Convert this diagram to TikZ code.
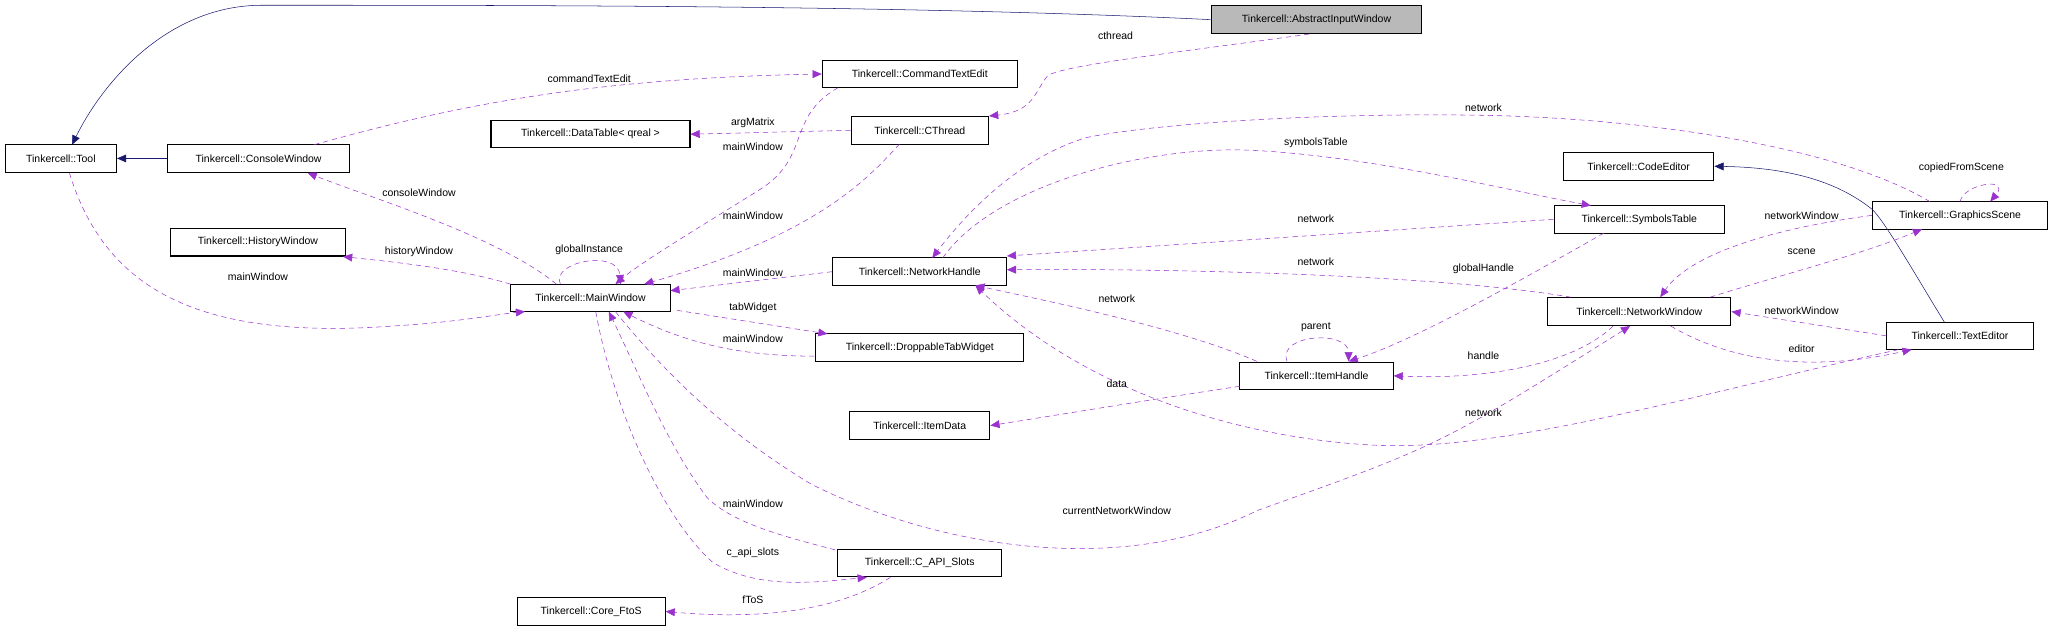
\documentclass[tikz,border=0pt]{standalone}
\usepackage{fontspec}
\setmainfont{Liberation Sans}
\usetikzlibrary{arrows.meta}
\definecolor{pur}{HTML}{9A32CD}
\definecolor{nav}{HTML}{191970}
\begin{document}
\begin{tikzpicture}[x=1pt,y=-1pt,font=\fontsize{8}{9}\selectfont,
 box/.style={draw,thick,inner sep=0pt,minimum height=21pt},
 dep/.style={pur,densely dashed,dash pattern=on 4pt off 3pt,-{Triangle[length=7pt,width=6pt]}},
 inh/.style={nav,-{Triangle[length=7pt,width=6pt]}},
 lab/.style={inner sep=1pt}]
\useasboundingbox (0,0) rectangle (1568,483);
% nodes
\node[box,fill=gray!55,minimum width=161pt] (aiw) at (1005.5,15) {Tinkercell::AbstractInputWindow};
\node[box,minimum width=149pt] (cte) at (702.5,56.5) {Tinkercell::CommandTextEdit};
\node[box,minimum width=85pt] (tool) at (46.5,121) {Tinkercell::Tool};
\node[box,minimum width=139pt] (con) at (197.5,121) {Tinkercell::ConsoleWindow};
\node[box,minimum width=105pt] (cth) at (702.5,99.5) {Tinkercell::CThread};
\node[box,minimum width=152pt] (dt) at (451,102.5) {Tinkercell::DataTable< qreal >};
\node[box,minimum width=134pt] (hw) at (197,185) {Tinkercell::HistoryWindow};
\node[box,minimum width=122pt] (mw) at (451,227.5) {Tinkercell::MainWindow};
\node[box,minimum width=133pt] (nh) at (702.5,207.5) {Tinkercell::NetworkHandle};
\node[box,minimum width=159pt] (dtw) at (702.5,265.5) {Tinkercell::DroppableTabWidget};
\node[box,minimum width=107pt] (id) at (702.5,325) {Tinkercell::ItemData};
\node[box,minimum width=125pt] (cas) at (702.5,430) {Tinkercell::C\_API\_Slots};
\node[box,minimum width=113pt] (fts) at (451.5,467) {Tinkercell::Core\_FtoS};
\node[box,minimum width=115pt] (ce) at (1251.5,127) {Tinkercell::CodeEditor};
\node[box,minimum width=130pt] (st) at (1252,167.5) {Tinkercell::SymbolsTable};
\node[box,minimum width=134pt] (gs) at (1497,164.5) {Tinkercell::GraphicsScene};
\node[box,minimum width=140pt] (nw) at (1252,238) {Tinkercell::NetworkWindow};
\node[box,minimum width=112pt] (te) at (1497,256.5) {Tinkercell::TextEditor};
\node[box,minimum width=117pt] (ih) at (1005.5,287) {Tinkercell::ItemHandle};
% inheritance
\draw[inh] (aiw.west) .. controls (700,4) and (400,4) .. (200,4) .. controls (130,4) and (80,60) .. (55,110.5);
\draw[inh] (con.west) -- (tool.east);
\draw[inh] (1485,246) .. controls (1460,205) and (1440,170) .. (1430,160) .. controls (1405,140) and (1370,128) .. (ce.east);
% dependencies
\draw[dep] (240,110.5) .. controls (350,80) and (450,60) .. (cte.west);
\draw[dep] (1000,26) .. controls (900,40) and (810,50) .. (800,58) .. controls (790,70) and (790,85) .. (cth.north east);
\draw[dep] (cth.west) -- (dt.east);
\draw[dep] (640,67) .. controls (600,90) and (620,120) .. (580,145) .. controls (540,170) and (490,200) .. (470,217);
\draw[dep] (687,110) .. controls (660,140) and (620,180) .. (492,217);
\draw[dep] (425,217) .. controls (380,180) and (280,150) .. (235,132);
\draw[dep] (390,217) .. controls (350,205) and (300,200) .. (262,196);
\draw[dep] (428,217) .. controls (420,200) and (472,190) .. (474,217);
\draw[dep] (53,132) .. controls (80,220) and (150,260) .. (300,249) .. controls (350,246) and (380,240) .. (401,238);
\draw[dep] (nh.west) -- (512,222);
\draw[dep] (517,237) -- (632,255);
\draw[dep] (622,272) .. controls (560,272) and (520,260) .. (476,238);
\draw[dep] (638,420) .. controls (600,410) and (560,400) .. (540,380) .. controls (510,340) and (490,290) .. (465,238);
\draw[dep] (455,238) .. controls (470,320) and (510,400) .. (545,430) .. controls (580,450) and (620,445) .. (662,441);
\draw[dep] (680,441) .. controls (650,460) and (600,475) .. (fts.east);
\draw[dep] (470,238) .. controls (520,300) and (570,340) .. (620,370) .. controls (720,420) and (860,440) .. (960,390) .. controls (1100,340) .. (1245,249);
\draw[dep] (1474,154) .. controls (1400,110) and (1250,90) .. (1130,88) .. controls (1000,86) and (880,95) .. (830,105) .. controls (780,120) and (740,160) .. (712,197);
\draw[dep] (720,197) .. controls (760,140) and (880,110) .. (960,115) .. controls (1050,120) and (1150,145) .. (1215,157);
\draw[dep] (st.west) -- (769,195.5);
\draw[dep] (1200,227) .. controls (1100,210) and (900,205) .. (769,206);
\draw[dep] (960,276) .. controls (900,250) and (800,230) .. (745,218);
\draw[dep] (1225,178) .. controls (1160,215) and (1080,260) .. (1030,276);
\draw[dep] (983,276) .. controls (975,255) and (1030,252) .. (1030,276);
\draw[dep] (1232,249) .. controls (1200,280) and (1130,290) .. (ih.east);
\draw[dep] (947,295) .. controls (880,305) and (820,315) .. (id.east);
\draw[dep] (1450,267) .. controls (1300,300) and (1150,345) .. (1050,340) .. controls (950,335) and (830,300) .. (745,218);
\draw[dep] (1306,227) .. controls (1360,210) and (1420,195) .. (1468,175);
\draw[dep] (gs.west) .. controls (1350,175) and (1290,195) .. (1268,227);
\draw[dep] (1497,154) .. controls (1500,140) and (1536,135) .. (1520,154);
\draw[dep] (te.west) -- (nw.east);
\draw[dep] (1276,249) .. controls (1320,275) and (1380,285) .. (1460,267);
% labels
\node[lab] (l1) at (450,60) {commandTextEdit};
\node[lab] (l2) at (852,27) {cthread};
\node[lab] (l3) at (575,94) {argMatrix};
\node[lab] (l4) at (575,112) {mainWindow};
\node[lab] (l5) at (575,165) {mainWindow};
\node[lab] (l6) at (320,147) {consoleWindow};
\node[lab] (l7) at (320,192) {historyWindow};
\node[lab] (l8) at (450,191) {globalInstance};
\node[lab] (l9) at (197,211) {mainWindow};
\node[lab] (l10) at (575,208) {mainWindow};
\node[lab] (l11) at (575,235) {tabWidget};
\node[lab] (l12) at (575,259) {mainWindow};
\node[lab] (l13) at (575,385) {mainWindow};
\node[lab] (l14) at (575,422) {c\_api\_slots};
\node[lab] (l15) at (575,458) {fToS};
\node[lab] (l16) at (853,390) {currentNetworkWindow};
\node[lab] (l17) at (1133,82) {network};
\node[lab] (l18) at (1005,109) {symbolsTable};
\node[lab] (l19) at (1005,167) {network};
\node[lab] (l20) at (1005,200) {network};
\node[lab] (l21) at (853,228) {network};
\node[lab] (l22) at (1133,205) {globalHandle};
\node[lab] (l23) at (1005,250) {parent};
\node[lab] (l24) at (1133,272) {handle};
\node[lab] (l25) at (853,293) {data};
\node[lab] (l26) at (1133,315) {network};
\node[lab] (l27) at (1376,192) {scene};
\node[lab] (l28) at (1376,165) {networkWindow};
\node[lab] (l29) at (1498,128) {copiedFromScene};
\node[lab] (l30) at (1376,237) {networkWindow};
\node[lab] (l31) at (1376,266) {editor};
\end{tikzpicture}
\end{document}
